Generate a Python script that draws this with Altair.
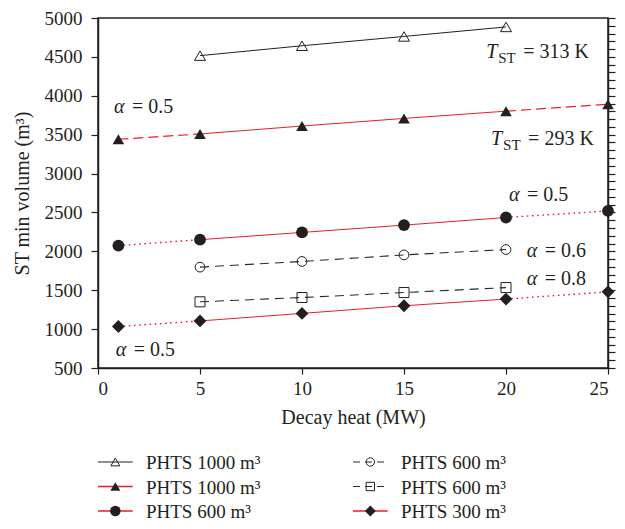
import altair as alt
import pandas as pd

FONT = "Liberation Serif"
RED = "#ec1c24"
INK = "#231f20"

# ---------------- data ----------------
x_short = [5, 10, 15, 20]
x_long = [1, 5, 10, 15, 20, 25]

vol_1000_313 = [4516, 4643, 4763, 4885]              # open triangle, T_ST = 313 K
vol_1000_293 = [3441, 3509, 3611, 3709, 3802, 3891]  # filled triangle, T_ST = 293 K
vol_600_a05 = [2074, 2150, 2243, 2337, 2435, 2520]   # filled circle, alpha = 0.5
vol_600_a06 = [1797, 1870, 1954, 2023]               # open circle, alpha = 0.6
vol_600_a08 = [1351, 1406, 1470, 1534]               # open square, alpha = 0.8
vol_300_a05 = [1033, 1105, 1202, 1300, 1386, 1479]   # filled diamond, alpha = 0.5

series_names = ["s1000_313", "s1000_293", "s600_05", "s600_06", "s600_08", "s300_05"]
series_x = [x_short, x_long, x_long, x_short, x_short, x_long]
series_y = [vol_1000_313, vol_1000_293, vol_600_a05, vol_600_a06, vol_600_a08, vol_300_a05]
series_marker = ["open_tri", "filled_tri", "filled_circle", "open_circle", "open_square", "diamond"]
series_core = ["solid_black", "solid_red", "solid_red", "dash_black", "dash_black", "solid_red"]
series_ext = ["", "dash_red", "dot_red", "", "", "dot_red"]

legend_labels = ["PHTS 1000 m³", "PHTS 1000 m³", "PHTS 600 m³",
                 "PHTS 600 m³", "PHTS 600 m³", "PHTS 300 m³"]
legend_col = [0, 0, 0, 1, 1, 1]
legend_row = [0, 1, 2, 0, 1, 2]

alpha_x = [0.78, 0.87, 20.15, 21.02, 21.02]
alpha_y = [3862, 727, 2728, 2001, 1645]
alpha_val = ["0.5", "0.5", "0.5", "0.6", "0.8"]

temp_x = [19.03, 19.27]
temp_y = [4563, 3441]
temp_val = ["313", "293"]

x_ticks = [0, 5, 10, 15, 20, 25]
y_ticks = list(range(500, 5001, 500))
y_minor = list(range(500, 5001, 100))

# ---------------- styles ----------------
line_styles = {
    "solid_black": (INK, None, 1.0),
    "solid_red": (RED, None, 1.0),
    "dash_red": (RED, [10, 5], 1.2),
    "dot_red": (RED, [1.6, 3.6], 1.4),
    "dash_black": ("#2a2a2a", [9, 6], 1.1),
}
marker_styles = {
    "open_tri": ("triangle-up", False, 120, 80),
    "filled_tri": ("triangle-up", True, 135, 100),
    "filled_circle": ("circle", True, 140, 110),
    "open_circle": ("circle", False, 95, 70),
    "open_square": ("square", False, 100, 70),
    "diamond": ("diamond", True, 165, 120),
}

# ---------------- tables ----------------
line_rows, pt_rows = [], []
for name, xs, ys, mk, core, ext in zip(series_names, series_x, series_y,
                                        series_marker, series_core, series_ext):
    for xv, yv in zip(xs, ys):
        pt_rows.append({"series": name, "x": xv, "y": yv, "marker": mk})
        if 5 <= xv <= 20:
            line_rows.append({"seg": name + "_core", "style": core, "x": xv, "y": yv})
        if ext and xv <= 5:
            line_rows.append({"seg": name + "_left", "style": ext, "x": xv, "y": yv})
        if ext and xv >= 20:
            line_rows.append({"seg": name + "_right", "style": ext, "x": xv, "y": yv})
lines_df = pd.DataFrame(line_rows)
pts_df = pd.DataFrame(pt_rows)
alpha_df = pd.DataFrame({"x": alpha_x, "y": alpha_y, "v": alpha_val})
temp_df = pd.DataFrame({"x": temp_x, "y": temp_y, "v": temp_val})

xscale = alt.Scale(domain=[0, 25], nice=False, zero=False)
yscale = alt.Scale(domain=[500, 5000], nice=False, zero=False)

x_axis = alt.Axis(values=x_ticks, tickSize=6, title="Decay heat (MW)", format="d",
                  labelPadding=5, titlePadding=9)
y_left = alt.Axis(values=y_ticks, tickSize=7, title="ST min volume (m³)", format="d",
                  labelPadding=9, titlePadding=12)
y_right = alt.Axis(orient="right", values=y_minor, tickSize=7, labels=False, title=None)

X = alt.X("x:Q", scale=xscale, axis=x_axis)


def Y(axis=None):
    if axis is None:
        return alt.Y("y:Q", scale=yscale, axis=None)
    return alt.Y("y:Q", scale=yscale, axis=axis)


layers = []
first = True
for st, (col, dash, w) in line_styles.items():
    kw = dict(color=col, strokeWidth=w)
    if dash:
        kw["strokeDash"] = dash
    layer = alt.Chart(lines_df).transform_filter(
        alt.datum.style == st
    ).mark_line(**kw).encode(
        x=X, y=Y(y_left if first else None), detail="seg:N", order="x:Q"
    )
    first = False
    layers.append(layer)

first = True
for mk, (shape, filled, size, _) in marker_styles.items():
    kw = dict(shape=shape, filled=filled, size=size, opacity=1, color=INK)
    kw["strokeWidth"] = 0 if filled else 1
    layer = alt.Chart(pts_df).transform_filter(
        alt.datum.marker == mk
    ).mark_point(**kw).encode(x=X, y=Y(y_right if first else None))
    first = False
    layers.append(layer)

# annotations
tkw = dict(font=FONT, color=INK, align="left", baseline="middle")
layers.append(alt.Chart(alpha_df).mark_text(text="α", fontStyle="italic", fontSize=20, **tkw)
              .encode(x=X, y=Y()))
layers.append(alt.Chart(alpha_df).transform_calculate(t="'= ' + datum.v")
              .mark_text(dx=18, fontSize=20, **tkw).encode(x=X, y=Y(), text="t:N"))
layers.append(alt.Chart(temp_df).mark_text(text="T", fontStyle="italic", fontSize=20, **tkw)
              .encode(x=X, y=Y()))
layers.append(alt.Chart(temp_df).mark_text(text="ST", dx=12, dy=6, fontSize=15, **tkw)
              .encode(x=X, y=Y()))
layers.append(alt.Chart(temp_df).transform_calculate(t="'= ' + datum.v + ' K'")
              .mark_text(dx=37, fontSize=20, **tkw).encode(x=X, y=Y(), text="t:N"))

main = alt.layer(*layers).resolve_axis(y="independent").properties(
    width=510, height=350,
    view=alt.ViewBackground(stroke=INK, strokeWidth=1.5),
)

# ---------------- legend ----------------
leg_df = pd.DataFrame({
    "label": legend_labels, "col": legend_col, "row": legend_row,
    "style": [s for s in series_core], "marker": series_marker,
})
LX = alt.Scale(domain=[0, 2], nice=False, zero=False)
LY = alt.Scale(domain=[0, 2], reverse=True, nice=False, zero=False)
lbase = alt.Chart(leg_df).transform_calculate(
    x0="datum.col", x1="datum.col + 0.136", xm="datum.col + 0.068", xt="datum.col + 0.188"
)
leg_layers = []
for st, (col, dash, w) in line_styles.items():
    kw = dict(color=col, strokeWidth=1.5 if col == RED else 1.0)
    if dash:
        kw["strokeDash"] = [7, 5]
    leg_layers.append(lbase.transform_filter(alt.datum.style == st).mark_rule(**kw).encode(
        x=alt.X("x0:Q", scale=LX, axis=None), x2="x1:Q",
        y=alt.Y("row:Q", scale=LY, axis=None)))
for mk, (shape, filled, _, lsize) in marker_styles.items():
    kw = dict(shape=shape, filled=filled, size=lsize, opacity=1, color=INK)
    kw["strokeWidth"] = 0 if filled else 1
    leg_layers.append(lbase.transform_filter(alt.datum.marker == mk).mark_point(**kw).encode(
        x=alt.X("xm:Q", scale=LX, axis=None),
        y=alt.Y("row:Q", scale=LY, axis=None)))
leg_layers.append(lbase.mark_text(font=FONT, fontSize=19, color=INK, align="left",
                                  baseline="middle", dy=1).encode(
    x=alt.X("xt:Q", scale=LX, axis=None),
    y=alt.Y("row:Q", scale=LY, axis=None), text="label:N"))
legend = alt.layer(*leg_layers).properties(
    width=510, height=49, view=alt.ViewBackground(stroke="transparent"))

chart = alt.vconcat(main, legend, spacing=25).properties(
    padding={"left": 3, "top": 0, "right": 0, "bottom": 0}
).configure_axis(
    labelFont=FONT, titleFont=FONT, labelFontSize=19, titleFontSize=20,
    titleFontWeight="normal", labelColor=INK, titleColor=INK,
    domainColor=INK, tickColor=INK, domainWidth=1.5, tickWidth=1.2, grid=False,
).configure_view(stroke=None)

chart.save("out.html", embed_options={"renderer": "svg", "actions": False})
